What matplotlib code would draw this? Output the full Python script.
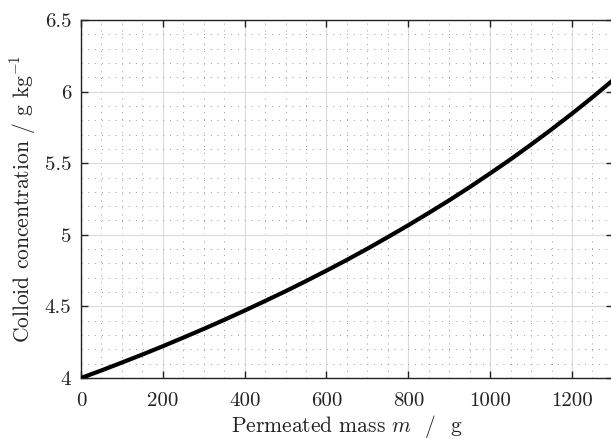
import matplotlib
matplotlib.use("Agg")
import matplotlib.pyplot as plt
from matplotlib.ticker import MultipleLocator

plt.rcParams['font.family'] = 'serif'
plt.rcParams['font.serif'] = ['cmr10']
plt.rcParams['mathtext.fontset'] = 'cm'
plt.rcParams['axes.formatter.use_mathtext'] = True

mass = [0, 50, 100, 150, 200, 250, 300, 350, 400, 450, 500, 550, 600, 650,
        700, 750, 800, 850, 900, 950, 1000, 1050, 1100, 1150, 1200, 1250, 1300]
conc = [4.000, 4.053, 4.108, 4.164, 4.222, 4.282, 4.343, 4.406, 4.471, 4.538,
        4.606, 4.677, 4.750, 4.825, 4.903, 4.984, 5.067, 5.153, 5.241, 5.333,
        5.429, 5.527, 5.630, 5.736, 5.846, 5.960, 6.080]
xticks = [0, 200, 400, 600, 800, 1000, 1200]
yticks = [4, 4.5, 5, 5.5, 6, 6.5]
yticklabels = ['4', '4.5', '5', '5.5', '6', '6.5']

fig = plt.figure(figsize=(6.11, 4.43), dpi=100)
ax = fig.add_axes([0.1326, 0.1467, 0.8705, 0.8082])

ax.plot(mass, conc, color='black', lw=3.0, solid_joinstyle='round', zorder=3)
ax.set_xlim(0, 1300)
ax.set_ylim(4, 6.5)
ax.set_xticks(xticks)
ax.set_xticklabels([str(t) for t in xticks])
ax.set_yticks(yticks)
ax.set_yticklabels(yticklabels)
ax.xaxis.set_minor_locator(MultipleLocator(50))
ax.yaxis.set_minor_locator(MultipleLocator(0.1))

ax.grid(which='major', color='#dadada', lw=0.8, ls='-')
ax.grid(which='minor', color='#9a9a9a', lw=0.7, ls=(0, (1, 6)))
ax.set_axisbelow(True)

ax.tick_params(which='major', direction='in', length=5, width=1, top=True, right=True,
               labelsize=15, colors='#222222')
ax.tick_params(axis='x', which='major', pad=10)
ax.tick_params(axis='y', which='major', pad=7)
ax.tick_params(which='minor', length=0)
for s in ax.spines.values():
    s.set_color('#222222')
    s.set_linewidth(1.0)

ax.set_xlabel(r'Permeated mass $m$  /  g', fontsize=15.5, color='#222222', labelpad=2.5)
ax.set_ylabel(r'Colloid concentration / g kg$^{-1}$', fontsize=15.5, color='#222222', labelpad=5)

fig.savefig('out.png', dpi=100)
